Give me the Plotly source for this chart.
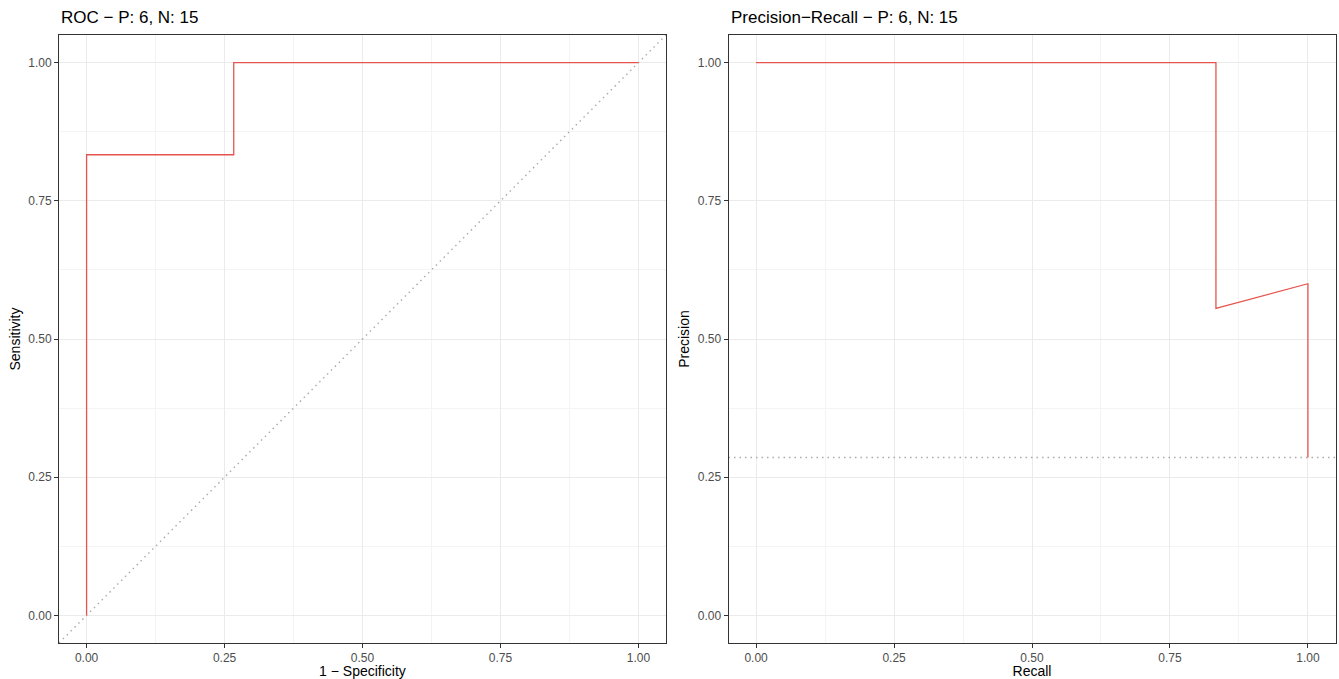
import plotly.graph_objects as go

# ROC curve data (P: 6, N: 15)
roc_fpr = [0.0, 0.0, 4/15, 4/15, 1.0]
roc_tpr = [0.0, 5/6, 5/6, 1.0, 1.0]

# Precision-Recall curve data
pr_recall = [0.0, 5/6, 5/6, 1.0, 1.0]
pr_precision = [1.0, 1.0, 5/9, 0.6, 6/21]

# Reference lines
diag_x = [-0.05, 1.05]
diag_y = [-0.05, 1.05]
baseline = 6 / 21

tick_vals = [0.0, 0.25, 0.5, 0.75, 1.0]
tick_text = ["0.00", "0.25", "0.50", "0.75", "1.00"]

titles = ["ROC \u2212 P: 6, N: 15", "Precision\u2212Recall \u2212 P: 6, N: 15"]
x_titles = ["1 \u2212 Specificity", "Recall"]
y_titles = ["Sensitivity", "Precision"]

W, H = 1339, 679
FONT = "Liberation Sans, Arial, sans-serif"
RED = "#E5554D"
DOT = "1.5px,4px"

fig = go.Figure()

# left panel
fig.add_trace(go.Scatter(x=diag_x, y=diag_y, mode="lines",
                         line=dict(color="#AAAAAA", width=1.4, dash=DOT),
                         xaxis="x", yaxis="y", showlegend=False, hoverinfo="skip"))
fig.add_trace(go.Scatter(x=roc_fpr, y=roc_tpr, mode="lines",
                         line=dict(color=RED, width=1.3),
                         xaxis="x", yaxis="y", showlegend=False))
# right panel
fig.add_trace(go.Scatter(x=[-0.05, 1.05], y=[baseline, baseline], mode="lines",
                         line=dict(color="#AAAAAA", width=1.4, dash=DOT),
                         xaxis="x2", yaxis="y2", showlegend=False, hoverinfo="skip"))
fig.add_trace(go.Scatter(x=pr_recall, y=pr_precision, mode="lines",
                         line=dict(color=RED, width=1.3),
                         xaxis="x2", yaxis="y2", showlegend=False))

def px_x(p):
    return p / W

def px_y(p):
    return 1 - p / H

y_dom = [px_y(643), px_y(35)]
x_doms = [[px_x(59), px_x(666)], [px_x(728.5), px_x(1335.5)]]

def axis_common(title, dom, anchor):
    return dict(
        domain=dom, anchor=anchor,
        range=[-0.05, 1.05],
        tickvals=tick_vals, ticktext=tick_text,
        ticks="outside", ticklen=4, tickwidth=1, tickcolor="#333333",
        tickfont=dict(family=FONT, size=12, color="#4D4D4D"),
        showgrid=True, gridcolor="#EBEBEB", gridwidth=1,
        minor=dict(showgrid=True, gridcolor="#F4F4F4", gridwidth=0.6,
                   tickvals=[0.125, 0.375, 0.625, 0.875], ticks=""),
        zeroline=False,
        showline=True, linecolor="#333333", linewidth=1, mirror=True,
        title=dict(text=title, font=dict(family=FONT, size=14, color="#000000"),
                   standoff=4),
        automargin=False,
        fixedrange=True,
    )

fig.update_layout(
    width=W, height=H,
    margin=dict(l=0, r=0, t=0, b=0),
    paper_bgcolor="white", plot_bgcolor="white",
    xaxis=axis_common(x_titles[0], x_doms[0], "y"),
    yaxis=axis_common(y_titles[0], y_dom, "x"),
    xaxis2=axis_common(x_titles[1], x_doms[1], "y2"),
    yaxis2=axis_common(y_titles[1], y_dom, "x2"),
)

for i, t in enumerate(titles):
    fig.add_annotation(text=t, xref="paper", yref="paper",
                       x=x_doms[i][0], y=px_y(29), xanchor="left", yanchor="bottom",
                       showarrow=False,
                       font=dict(family=FONT, size=17, color="#000000"))

fig.write_html("out.html", config={"displayModeBar": False},
               post_script="document.body.style.margin='0';document.body.style.overflow='hidden';")
